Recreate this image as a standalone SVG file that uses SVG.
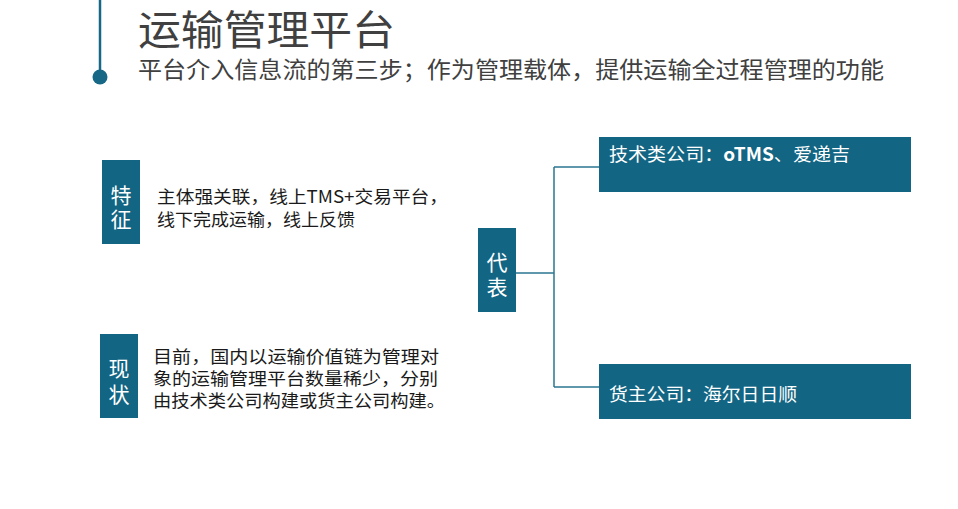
<svg xmlns="http://www.w3.org/2000/svg" width="958" height="509" viewBox="0 0 958 509">
<style>
text{font-family:"Noto Sans CJK SC","Noto Sans",sans-serif}
.box{fill:#126583}
.wt{fill:#ffffff;font-size:21px;text-anchor:middle}
.body{fill:#1a1a1a;font-size:17.5px}
.lbl{fill:#ffffff;font-size:18px}
.conn{fill:none;stroke:#2b7691;stroke-width:1.5}
.head{fill:#404040}
</style>
<rect width="958" height="509" fill="#ffffff"/>
<g id="header">
<line x1="100" y1="0" x2="100" y2="74" stroke="#176886" stroke-width="2.5"/>
<circle cx="100" cy="77" r="7.5" fill="#176886"/>
<text class="head" x="138" y="45" font-size="41" textLength="257" lengthAdjust="spacingAndGlyphs">运输管理平台</text>
<text class="head" x="138" y="78" font-size="23" textLength="746" lengthAdjust="spacingAndGlyphs">平台介入信息流的第三步；作为管理载体，提供运输全过程管理的功能</text>
</g>
<g id="feature">
<rect class="box" x="102" y="160" width="38" height="84"/>
<text class="wt" x="121" y="203">特</text>
<text class="wt" x="121" y="227">征</text>
<text class="body" x="157" y="203" textLength="291" lengthAdjust="spacingAndGlyphs">主体强关联，线上TMS+交易平台，</text>
<text class="body" x="157" y="226" textLength="198" lengthAdjust="spacingAndGlyphs">线下完成运输，线上反馈</text>
</g>
<g id="status">
<rect class="box" x="100" y="334" width="38" height="84"/>
<text class="wt" x="119" y="376">现</text>
<text class="wt" x="119" y="402">状</text>
<text class="body" x="153" y="363" textLength="286" lengthAdjust="spacingAndGlyphs">目前，国内以运输价值链为管理对</text>
<text class="body" x="153" y="385" textLength="285" lengthAdjust="spacingAndGlyphs">象的运输管理平台数量稀少，分别</text>
<text class="body" x="153" y="407" textLength="292" lengthAdjust="spacingAndGlyphs">由技术类公司构建或货主公司构建。</text>
</g>
<g id="representative">
<rect class="box" x="478" y="228" width="38" height="84"/>
<text class="wt" x="497" y="270">代</text>
<text class="wt" x="497" y="295">表</text>
</g>
<g id="connectors">
<path class="conn" d="M516 273 H554 M554 167 V387 M554 167 H599 M554 387 H599"/>
</g>
<g id="tech-company">
<rect class="box" x="599" y="137" width="312" height="55"/>
<text class="lbl" x="609" y="161" textLength="241" lengthAdjust="spacingAndGlyphs">技术类公司：<tspan font-weight="bold">oTMS</tspan>、爱递吉</text>
</g>
<g id="shipper-company">
<rect class="box" x="599" y="364" width="312" height="55"/>
<text class="lbl" x="609" y="401" textLength="188" lengthAdjust="spacingAndGlyphs">货主公司：海尔日日顺</text>
</g>
</svg>
